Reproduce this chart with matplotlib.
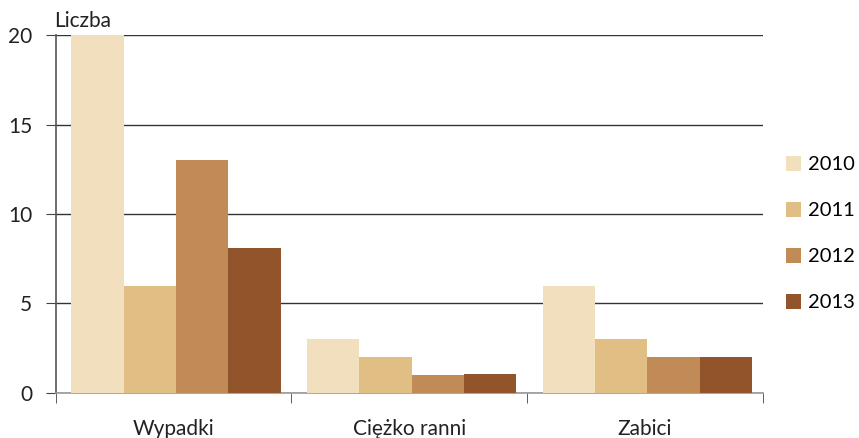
import numpy as np
import matplotlib.pyplot as plt

categories = ["Wypadki", "Ciężko ranni", "Zabici"]
years = ["2010", "2011", "2012", "2013"]
values = {
    "2010": [20, 3, 6],
    "2011": [6, 2, 3],
    "2012": [13, 1, 2],
    "2013": [8.1, 1.05, 2],
}
colors = ["#F2DFBD", "#E1BE83", "#C08B57", "#92542B"]

plt.rcParams['font.family'] = ['Lato', 'DejaVu Sans']

fig = plt.figure(figsize=(8.59, 4.38), dpi=100)
ax = fig.add_axes([0.065, 0.103, 0.823, 0.817])

x = np.arange(len(categories))
w = 0.222
for i, yr in enumerate(years):
    ax.bar(x + (i - 1.5) * w + 0.01, values[yr], width=w, color=colors[i], label=yr, zorder=3)

ax.set_xlim(-0.5, len(categories) - 0.5)
ax.set_ylim(0, 20)
ax.set_yticks([0, 5, 10, 15, 20])
ax.yaxis.grid(True, color="#333333", linewidth=1.0, zorder=0)
ax.set_axisbelow(True)

ax.set_xticks(x)
ax.set_xticklabels(categories, fontsize=15, color="#222222")
ax.tick_params(axis='x', length=0, pad=19)
ax.set_xticks([-0.5, 0.5, 1.5, 2.5], minor=True)
ax.tick_params(axis='x', which='minor', length=7, color="#444444", direction='out')
ax.tick_params(axis='y', labelsize=15, colors="#222222", length=7, color="#444444", pad=10)

for s in ["top", "right"]:
    ax.spines[s].set_visible(False)
ax.spines["left"].set_color("#555555")
ax.spines["left"].set_linewidth(1.2)
ax.spines["bottom"].set_color("#999999")
ax.spines["bottom"].set_linewidth(1.2)

ax.text(-0.002, 1.012, "Liczba", transform=ax.transAxes, fontsize=15,
        color="#222222", ha="left", va="bottom")

ax.legend(loc="center left", bbox_to_anchor=(1.0, 0.445), frameon=False,
          fontsize=14.5, handlelength=0.75, handleheight=0.75, labelspacing=1.42,
          handletextpad=0.35, borderaxespad=0.95, borderpad=0.2)

fig.savefig("out.png", dpi=100)
